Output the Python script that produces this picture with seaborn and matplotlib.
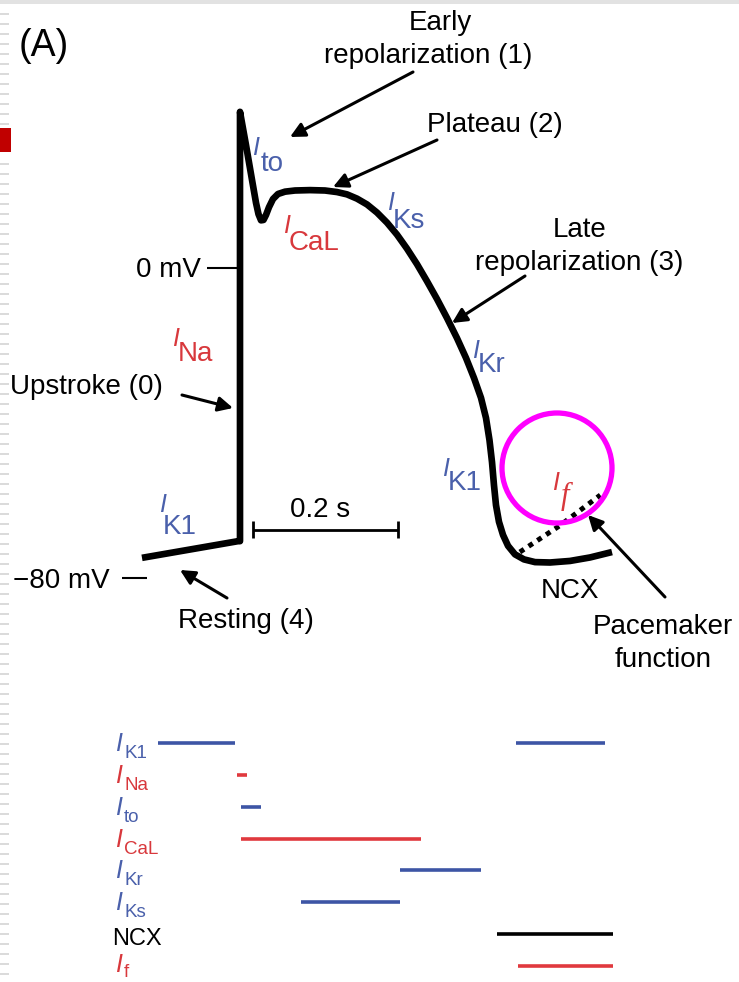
import matplotlib
matplotlib.use("Agg")
import matplotlib.pyplot as plt
from matplotlib.transforms import Affine2D
from matplotlib.patches import Rectangle, Circle
from matplotlib.collections import LineCollection
import pandas as pd
import seaborn as sns

# ---------------- data ----------------
# ventricular action potential trace (time in ms from upstroke, membrane potential in mV)
ap_time_ms = [-135.2, -2.8, 0, 0, 8.3, 16.6, 22.1, 25.5, 29.0, 32.4, 35.9, 40.0, 45.5, 52.4,
              62.1, 75.9, 96.6, 117.2, 133.8, 147.6, 161.4, 175.2, 189.0, 202.8, 216.6,
              230.3, 244.1, 257.9, 271.7, 285.5, 299.3, 311.7, 322.8, 332.4, 339.3, 344.1,
              347.6, 350.3, 353.1, 357.2, 362.8, 369.7, 379.3, 391.7, 406.9, 427.6, 455.2,
              482.8, 513.1]
ap_mv = [-74.8, -70.5, -70.5, 40.3, 31.7, 22.7, 16.8, 13.9, 12.3, 12.4, 13.7, 15.7, 17.8, 19.1,
         19.7, 20.0, 20.1, 20.0, 19.6, 19.0, 17.9, 16.4, 14.3, 11.7, 8.6,
         5.0, 1.0, -3.4, -8.0, -12.9, -18.1, -23.2, -28.4, -33.5, -38.7, -44.4,
         -50.1, -56.0, -61.2, -65.5, -68.9, -71.7, -73.9, -75.2, -75.9, -76.0, -75.6,
         -74.7, -73.3]

# pacemaker (diastolic depolarisation, dotted)
pace_time_ms = [386, 441, 497]
pace_mv = [-73.3, -66.5, -58.6]

# voltage reference ticks
tick_mv = [0, -80]
tick_labels = ["0 mV", "\u221280 mV"]

# scale bar
scale_bar_ms = 200
scale_bar_label = "0.2 s"

# current activity windows (bottom panel)
current_names = ["K1", "Na", "to", "CaL", "Kr", "Ks", "NCX", "f"]
current_ion = ["K", "Na", "K", "Ca", "K", "K", "NCX", "f"]
bar_row = [0, 0, 1, 2, 3, 4, 5, 6, 7]
bar_start_ms = [-113, 381, -4, 1.4, 1.4, 221, 84, 354.5, 383]
bar_end_ms = [-7, 503, 9.7, 29, 250, 332, 221, 514.5, 514.5]

# ---------------- style ----------------
sns.set_theme(style="white")
plt.rcParams["font.family"] = ["Liberation Sans", "DejaVu Sans"]

BLUE_T = "#4a60ab"
RED_T = "#d8383c"
BLUE_B = "#3d55a5"
RED_B = "#e0393e"
ion_color = {"K": BLUE_B, "Na": RED_B, "Ca": RED_B, "f": RED_B, "NCX": "black"}
ion_tcolor = {"K": BLUE_T, "Na": RED_T, "Ca": RED_T, "f": RED_T, "NCX": "black"}

W, H, DPI = 739, 982, 100
fig = plt.figure(figsize=(W / DPI, H / DPI), dpi=DPI)
fig.patch.set_facecolor("white")

# pixel transform (origin top-left) for labels / annotations
T = Affine2D().scale(1 / DPI, -1 / DPI).translate(0, H / DPI) + fig.dpi_scale_trans

# main axis: time (ms) vs voltage (mV)
ax = fig.add_axes([0, 0, 1, 1])
ax.set_xlim(-240 / 0.725, (W - 240) / 0.725)
ax.set_ylim((268 - H) / 3.875, 268 / 3.875)
ax.axis("off")

ap = pd.DataFrame({"t": ap_time_ms, "v": ap_mv})
sns.lineplot(data=ap, x="t", y="v", sort=False, estimator=None, ax=ax, color="black",
             lw=4.8, solid_joinstyle="round", solid_capstyle="butt")
pace = pd.DataFrame({"t": pace_time_ms, "v": pace_mv})
sns.lineplot(data=pace, x="t", y="v", sort=False, estimator=None, ax=ax, color="black", lw=3.6)
ax.lines[-1].set_linestyle((0, (1, 1.1)))
ax.lines[-1].set_dash_capstyle("butt")

# voltage ticks
ax.hlines(tick_mv[0], -45.5, -2.8, color="black", lw=1.5)
ax.hlines(tick_mv[1], -162.8, -128.3, color="black", lw=1.5)

# scale bar
sb0 = 17.9
ax.hlines(-67.6, sb0, sb0 + scale_bar_ms, color="black", lw=2.0)
ax.vlines([sb0, sb0 + scale_bar_ms], -69.8, -65.4, color="black", lw=2.0)

# bottom panel axis: rows of currents
ax2 = fig.add_axes([0, 0, 1, 1])
ax2.set_xlim(ax.get_xlim())
ROW0, ROWD = 743, 31.86
ax2.set_ylim((H - ROW0) / ROWD, -ROW0 / ROWD)
ax2.axis("off")
ax2.patch.set_alpha(0)
for r, s, e in zip(bar_row, bar_start_ms, bar_end_ms):
    ax2.hlines(r, s, e, color=ion_color[current_ion[r]], lw=2.6)

# ---------------- text ----------------
def txt(x, y, s, size=20, ha="center", color="black", **kw):
    fig.text(x, y, s, transform=T, fontsize=size, ha=ha, va="baseline", color=color, **kw)

txt(19, 56, "(A)", size=27, ha="left")
txt(440, 30, "Early")
txt(428, 63, "repolarization (1)")
txt(495, 132, "Plateau (2)")
txt(580, 237, "Late")
txt(579, 270, "repolarization (3)")
txt(10, 394, "Upstroke (0)", ha="left")
txt(246, 628, "Resting (4)")
txt(570, 598, "NCX")
txt(663, 634, "Pacemaker")
txt(663, 667, "function")
txt(320, 517, scale_bar_label)
txt(201, 277, tick_labels[0], ha="right")
txt(110, 588, tick_labels[1], ha="right")


def cur_label(x, yb, sub, color, dx, dy, isize=18, ssize=20, sub_italic=False):
    fig.text(x, yb, "I", transform=T, fontsize=isize, style="italic", color=color,
             ha="left", va="baseline")
    fig.text(x + dx, yb + dy, sub, transform=T, fontsize=ssize, color=color,
             ha="left", va="baseline", style="italic" if sub_italic else "normal",
             family=["Liberation Serif"] if sub_italic else None)


cur_label(252, 155, "to", BLUE_T, 9, 16)
cur_label(283, 233, "CaL", RED_T, 6, 17)
cur_label(387, 210, "Ks", BLUE_T, 6, 18)
cur_label(172, 346, "Na", RED_T, 6, 15)
cur_label(472, 358, "Kr", BLUE_T, 6, 14)
cur_label(442, 476, "K1", BLUE_T, 6, 14)
cur_label(159, 512, "K1", BLUE_T, 4, 22)
cur_label(552, 490, "f", RED_T, 9, 14, ssize=22, sub_italic=True)

# bottom row labels
for r, (name, ion) in enumerate(zip(current_names, current_ion)):
    y = ROW0 + ROWD * r
    c = ion_tcolor[ion]
    if name == "NCX":
        fig.text(112, y + 11, "NCX", transform=T, fontsize=17, color=c, ha="left", va="baseline")
    else:
        fig.text(115, y + 8 if r < 7 else y + 6, "I", transform=T, fontsize=18, style="italic",
                 color=c, ha="left", va="baseline")
        fig.text(124, y + 15 if r < 7 else y + 11, name, transform=T, fontsize=13.5, color=c,
                 ha="left", va="baseline")

# arrows
arrows = [((413, 72), (290, 137)), ((437, 140), (333, 187)), ((525, 276), (452, 323)),
          ((182, 395), (233, 408)), ((227, 598), (180, 570)), ((665, 597), (588, 515))]
for tail, head in arrows:
    ax.annotate("", xy=head, xytext=tail, xycoords=T, textcoords=T,
                arrowprops=dict(arrowstyle="-|>", color="black", lw=2.2,
                                mutation_scale=22, shrinkA=0, shrinkB=0))

# highlight circle
fig.patches.append(Circle((557, 468), 55, transform=T, fill=False, ec="#ff00ff", lw=3.8))

# slide decorations
fig.patches.append(Rectangle((0, 0), W, 4, transform=T, color="#e2e2e2", lw=0))
fig.patches.append(Rectangle((0, 128), 11, 24, transform=T, color="#c00000", lw=0))
segs = [[(0, y), (9, y)] for y in range(14, H, 10) if not (126 <= y <= 154)]
fig.add_artist(LineCollection(segs, transform=T, colors="#d4d4d4", lw=1.2))

fig.savefig("out.png", dpi=DPI, facecolor="white")
